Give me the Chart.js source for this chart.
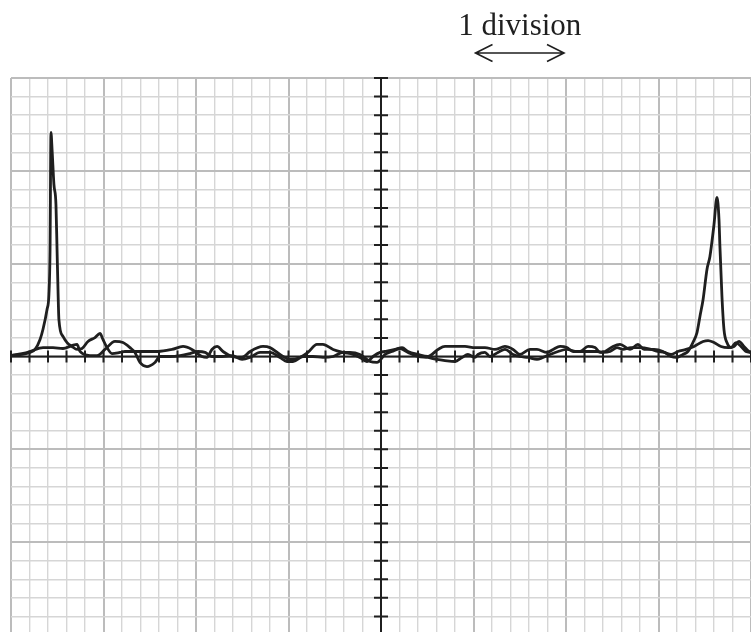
<!DOCTYPE html>
<html>
<head>
<meta charset="utf-8">
<script src="https://cdn.jsdelivr.net/npm/chart.js@4.4.1/dist/chart.umd.min.js"></script>
<style>
  html, body { margin: 0; padding: 0; background: #fff; overflow: hidden; }
  #scope { display: block; }
</style>
</head>
<body>
<canvas id="scope" width="751" height="640"></canvas>
<script>
// screen is 8 x 6 divisions, values are in minor divisions (5 per division)
const xRange = [0, 40];
const yRange = [-15, 15];
const centreX = 20;
const arrowSpan = [25, 30];
const caption = '1 division';

// trace with the two pulses
const traceA = [[0,0.05],[0.59,0.11],[1.03,0.22],[1.30,0.38],[1.57,0.92],[1.73,1.47],[1.95,2.55],[2.05,3.34],[2.11,5.71],
  [2.16,12.07],[2.22,11.15],[2.32,9.27],[2.43,8.19],[2.49,5.71],[2.54,3.61],[2.59,1.99],[2.81,1.08],[3.03,0.75],[3.30,0.54],
  [3.57,0.38],[3.84,0.43],[4.16,0.81],[4.54,1.02],[4.81,1.24],[4.97,0.92],[5.19,0.48],[5.46,0.16],[5.89,0.22],[6.16,0.27],
  [6.86,0.27],[7.95,0.27],[8.70,0.38],[9.30,0.54],[9.78,0.38],[10.32,0],[10.59,-0.05],[10.86,0.38],[11.14,0.54],[11.46,0.27],
  [11.95,0],[12.49,-0.05],[12.92,0.27],[13.62,0.54],[14.0,0.48],[14.54,0.11],[15.08,-0.16],[15.62,-0.05],[16.05,0.22],
  [16.54,0.65],[16.86,0.65],[17.41,0.38],[17.95,0.22],[18.49,0.11],[18.86,-0.05],[19.24,-0.27],[19.57,0],[19.95,0.22],
  [20.22,0.27],[20.76,0.38],[21.14,0.48],[21.46,0.27],[22.0,0.11],[22.54,0],[23.08,0.38],[23.46,0.54],[24.0,0.54],[24.54,0.54],
  [25.08,0.48],[25.62,0.48],[26.16,0.38],[26.70,0.54],[27.14,0.38],[27.51,0.11],[28.05,0.38],[28.43,0.38],[28.97,0.22],
  [29.30,0.38],[29.68,0.54],[30.05,0.48],[30.38,0.27],[30.76,0.27],[31.19,0.54],[31.57,0.48],[31.84,0.22],[32.11,0.27],
  [32.54,0.54],[32.92,0.65],[33.46,0.38],[33.89,0.65],[34.22,0.38],[34.76,0.38],[35.24,0.27],[35.68,0],[35.95,-0.05],
  [36.32,0.11],[36.59,0.27],[36.86,0.75],[37.08,1.29],[37.24,2.16],[37.41,3.07],[37.62,4.69],[37.78,5.39],[38.0,7.11],
  [38.16,8.57],[38.27,7.38],[38.32,5.93],[38.43,3.23],[38.54,1.45],[38.70,0.75],[38.92,0.48],[39.19,0.75],[39.46,0.54],
  [39.73,0.27],[40,0.22]];

// flat noisy trace
const traceB = [[0,0.05],[0.59,0.16],[1.03,0.27],[1.73,0.48],[2.27,0.48],[2.81,0.43],[3.30,0.59],[3.57,0.65],[3.73,0.27],
  [4.27,0.05],[4.65,0.05],[5.08,0.38],[5.62,0.81],[6.05,0.75],[6.43,0.48],[6.70,0.22],[6.97,-0.32],[7.35,-0.54],[7.78,-0.32],
  [8.05,0],[8.59,0],[9.14,0.05],[9.68,0.16],[10.11,0.27],[10.49,0.22],[10.86,0],[11.41,0],[11.95,0.05],[12.49,-0.16],
  [12.92,-0.05],[13.46,0.22],[14.0,0.22],[14.54,-0.05],[14.92,-0.27],[15.24,-0.27],[15.78,0],[16.32,0],[16.86,-0.05],
  [17.41,0],[17.95,0.22],[18.32,0.22],[18.86,0.11],[19.41,-0.27],[19.78,-0.32],[20.22,0.11],[20.59,0.27],[21.03,0.43],
  [21.46,0.22],[22.0,0],[22.54,-0.05],[23.03,-0.16],[23.46,-0.22],[24.0,-0.27],[24.38,-0.05],[24.70,0.11],[25.08,-0.05],
  [25.24,0.11],[25.62,0.22],[25.89,0],[26.32,0.22],[26.70,0.38],[27.14,0.11],[27.51,0],[27.95,-0.05],[28.43,-0.16],
  [28.76,-0.05],[29.14,0.11],[29.57,0.27],[30.05,0.38],[30.59,0.27],[31.14,0.27],[31.68,0.27],[32.0,0.22],[32.38,0.27],
  [32.76,0.48],[33.08,0.38],[33.51,0.48],[34.05,0.48],[34.59,0.38],[34.97,0.27],[35.30,0.22],[35.68,0.11],[36.05,0.27],
  [36.49,0.38],[36.92,0.54],[37.41,0.81],[37.68,0.86],[38.0,0.75],[38.38,0.54],[38.76,0.48],[39.08,0.54],[39.35,0.81],
  [39.62,0.54],[39.89,0.27],[40,0.22]];

const ink = '#1f1f1f';

function gridColor(c) { return Math.round(c.tick.value) % 5 === 0 ? '#bcbcbc' : '#d6d6d6'; }
function gridWidth(c) { return Math.round(c.tick.value) % 5 === 0 ? 2 : 1.4; }

// centre axes with tick marks, plus the "1 division" note
const scopePlugin = {
  id: 'scope',
  beforeDatasetsDraw(chart) {
    const { ctx, chartArea: a, scales: { x, y } } = chart;
    const x0 = x.getPixelForValue(centreX), y0 = y.getPixelForValue(0);
    ctx.save();
    ctx.strokeStyle = ink;
    ctx.lineWidth = 2;
    ctx.beginPath();
    ctx.moveTo(a.left, y0); ctx.lineTo(a.right, y0);
    ctx.moveTo(x0, a.top); ctx.lineTo(x0, a.bottom);
    for (let v = xRange[0]; v <= xRange[1]; v++) {
      const px = x.getPixelForValue(v);
      ctx.moveTo(px, y0 - 6); ctx.lineTo(px, y0 + 6);
    }
    for (let v = yRange[0]; v <= yRange[1]; v++) {
      const py = y.getPixelForValue(v);
      ctx.moveTo(x0 - 7, py); ctx.lineTo(x0 + 7, py);
    }
    ctx.stroke();
    ctx.restore();
  },
  afterDraw(chart) {
    const { ctx, scales: { x } } = chart;
    const l = x.getPixelForValue(arrowSpan[0]) + 2, r = x.getPixelForValue(arrowSpan[1]) - 2;
    const ay = 53;
    ctx.save();
    ctx.fillStyle = ink;
    ctx.font = '31px "Liberation Serif", "DejaVu Serif", serif';
    ctx.textAlign = 'center';
    ctx.textBaseline = 'alphabetic';
    ctx.fillText(caption, (l + r) / 2, 35);
    ctx.strokeStyle = ink;
    ctx.lineWidth = 1.6;
    ctx.beginPath();
    ctx.moveTo(l, ay); ctx.lineTo(r, ay);
    ctx.moveTo(l + 17, ay - 8.5); ctx.lineTo(l, ay); ctx.lineTo(l + 17, ay + 8.5);
    ctx.moveTo(r - 17, ay - 8.5); ctx.lineTo(r, ay); ctx.lineTo(r - 17, ay + 8.5);
    ctx.stroke();
    ctx.restore();
  }
};

function toPoints(arr) { return arr.map(p => ({ x: p[0], y: p[1] })); }

const trace = (name, arr) => ({
  label: name, data: toPoints(arr),
  borderColor: ink, borderWidth: 2.8, pointRadius: 0,
  cubicInterpolationMode: 'monotone', fill: false
});

new Chart(document.getElementById('scope'), {
  type: 'line',
  data: { datasets: [trace('A', traceA), trace('B', traceB)] },
  options: {
    responsive: false,
    animation: false,
    layout: { padding: { left: 11, top: 78, right: 0, bottom: 5 } },
    plugins: { legend: { display: false }, tooltip: { enabled: false } },
    scales: {
      x: {
        type: 'linear', min: xRange[0], max: xRange[1],
        ticks: { display: false, stepSize: 1, maxTicksLimit: 100 },
        grid: { color: gridColor, lineWidth: gridWidth, drawTicks: false },
        border: { display: false }
      },
      y: {
        type: 'linear', min: yRange[0], max: yRange[1],
        ticks: { display: false, stepSize: 1, maxTicksLimit: 100 },
        grid: { color: gridColor, lineWidth: gridWidth, drawTicks: false },
        border: { display: false }
      }
    }
  },
  plugins: [scopePlugin]
});
</script>
</body>
</html>
